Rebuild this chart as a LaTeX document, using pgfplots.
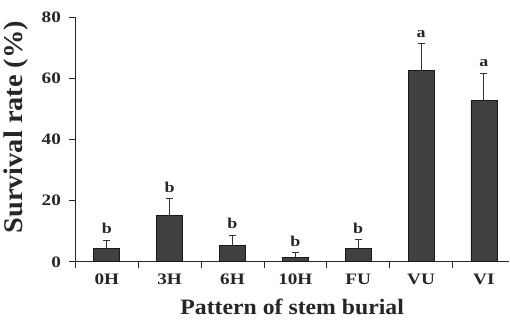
\documentclass[border=0pt]{standalone}
\usepackage{fontspec}
\setmainfont{Liberation Serif}
\newfontfamily\tickfont[FakeStretch=1.2]{Liberation Serif}
\newfontfamily\titlefont[FakeStretch=1.08]{Liberation Serif}
\newfontfamily\ylabfont[FakeStretch=1.05]{Liberation Serif}
\usepackage{pgfplots}
\pgfplotsset{compat=1.18}
\definecolor{barfill}{RGB}{64,64,64}
\begin{document}
\begin{tikzpicture}
\begin{axis}[name=ax,
  scale only axis, width=434pt, height=245pt,
  xmin=-0.5, xmax=6.4, ymin=0, ymax=80,
  axis lines=left, axis line style={-, line width=0.8pt, black!85},
  ytick={0,20,40,60,80},
  xtick={0,...,6}, xticklabels={0H,3H,6H,10H,FU,VU,VI},
  minor xtick={-0.5,0.5,...,5.5},
  major x tick style={draw=none},
  minor tick style={line width=0.8pt, black!85},
  major y tick style={line width=0.8pt, black!85},
  tick align=outside, tick pos=left,
  major tick length=6pt, minor tick length=6pt,
  /pgf/number format/assume math mode=true,
  ticklabel style={font=\tickfont\fontsize{16}{16}\selectfont\bfseries, text=black!85},
  xticklabel style={yshift=-3pt},
  yticklabel style={xshift=-5pt},
  xlabel={Pattern of stem burial}, ylabel={Survival rate (\%)},
  xlabel style={at={(axis description cs:0.5,-0.184)}, anchor=center, font=\titlefont\fontsize{22}{22}\selectfont\bfseries, text=black!85},
  ylabel style={at={(axis description cs:-0.138,0.55)}, anchor=center, font=\ylabfont\fontsize{27}{27}\selectfont\bfseries, text=black!85},
  clip=false,
]
\addplot[ybar, bar width=26pt, fill=barfill, draw=black!90, line width=0.7pt,
  error bars/.cd, y dir=plus, y explicit,
  error bar style={line width=0.9pt, black!80},
  error mark options={rotate=90, mark size=3.5pt, line width=0.9pt, black!80}]
  table[x=x, y=y, y error=e] {
x y e
0 4.4 2.7
1 15.2 5.5
2 5.4 3.3
3 1.4 1.5
4 4.4 2.9
5 62.4 8.8
6 52.6 9.1
};
\addplot[draw=none, mark=none, nodes near coords, point meta=explicit symbolic,
  nodes near coords style={anchor=south, inner sep=1pt, yshift=5pt, font=\tickfont\fontsize{15}{15}\selectfont\bfseries, text=black!85}]
  table[x=x, y=y, meta=l] {
x y l
0 7.1 b
1 20.7 b
2 8.7 b
3 2.9 b
4 7.3 b
5 71.2 a
6 61.7 a
};
\end{axis}
\path (ax.south west) ++(-75pt,-63pt) rectangle ++(510pt,325pt);
\end{tikzpicture}
\end{document}
